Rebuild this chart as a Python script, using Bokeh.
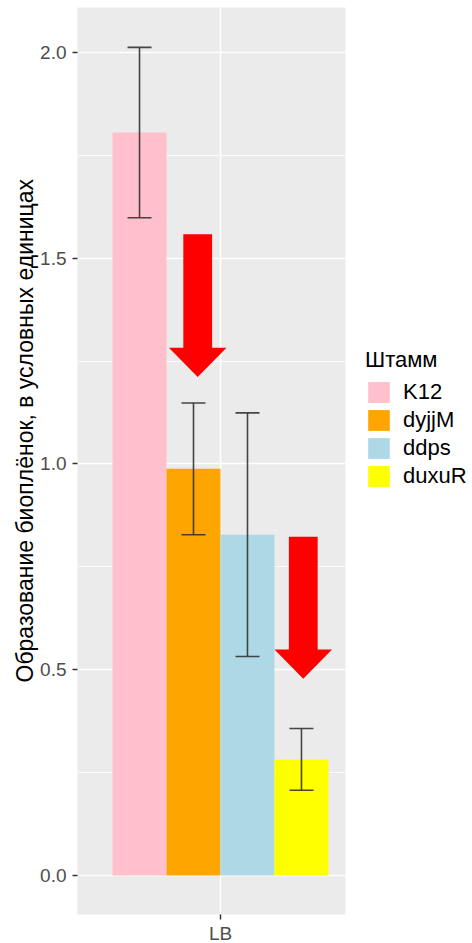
from bokeh.plotting import figure
from bokeh.models import (Range1d, FixedTicker, PrintfTickFormatter, Whisker, TeeHead,
                          ColumnDataSource, Legend, LegendItem, Title)
from bokeh.embed import file_html
from bokeh.resources import INLINE

# ---- data ----
conditions = ["LB"]
strains = ["K12", "dyjjM", "ddps", "duxuR"]
means = [1.805, 0.988, 0.828, 0.282]
err = [0.207, 0.160, 0.296, 0.075]
colors = ["#FFC0CB", "#FFA500", "#ADD8E6", "#FFFF00"]
y_ticks = [0.0, 0.5, 1.0, 1.5, 2.0]
y_minor = [0.25, 0.75, 1.25, 1.75]
y_title = "Образование биоплёнок, в условных единицах"
legend_title = "Штамм"

# annotation arrows (data coords)
arrow_x = [0.905, 1.345]
arrow_top = [1.558, 0.823]
arrow_neck = [1.282, 0.549]
arrow_tip = [1.211, 0.478]

FONT = "Liberation Sans"

dodge_w = 0.9 / len(strains)
xs = [1 + (i - (len(strains) - 1) / 2) * dodge_w for i in range(len(strains))]
lower = [m - e for m, e in zip(means, err)]
upper = [m + e for m, e in zip(means, err)]

src = ColumnDataSource(dict(x=xs, top=means, color=colors, strain=strains,
                            lower=lower, upper=upper))

p = figure(frame_width=268, frame_height=907, output_backend="svg", toolbar_location=None,
           x_range=Range1d(0.404, 1.521), y_range=Range1d(-0.0948, 2.109),
           min_border_left=77, min_border_right=127, min_border_top=7,
           min_border_bottom=29)
p.background_fill_color = "#EBEBEB"
p.border_fill_color = "white"
p.outline_line_color = None

bars = p.vbar(x="x", top="top", bottom=0, width=dodge_w, fill_color="color",
              line_color=None, source=src)

wh = Whisker(base="x", lower="lower", upper="upper", source=src, level="overlay",
             line_color="#333333", line_width=1.6, line_alpha=0.9,
             upper_head=TeeHead(size=24, line_color="#333333", line_width=1.6, line_alpha=0.9),
             lower_head=TeeHead(size=24, line_color="#333333", line_width=1.6, line_alpha=0.9))
p.add_layout(wh)

# arrows
sh, hh = 0.06, 0.12
pxs, pys = [], []
for x, t, n, tip in zip(arrow_x, arrow_top, arrow_neck, arrow_tip):
    pxs.append([x - sh, x + sh, x + sh, x + hh, x, x - hh, x - sh])
    pys.append([t, t, n, n, tip, n, n])
p.patches(pxs, pys, fill_color="#FF0000", line_color=None)

# axes
p.yaxis.ticker = FixedTicker(ticks=y_ticks, minor_ticks=y_minor)
p.yaxis.formatter = PrintfTickFormatter(format="%.1f")
p.xaxis.ticker = FixedTicker(ticks=[1])
p.xaxis.major_label_overrides = {1: conditions[0]}
for ax in (p.xaxis, p.yaxis):
    ax.axis_line_color = None
    ax.major_tick_line_color = "#333333"
    ax.major_tick_line_width = 1.5
    ax.major_tick_out = 5
    ax.major_tick_in = 0
    ax.minor_tick_line_color = None
    ax.major_label_text_font = FONT
    ax.major_label_text_font_size = "19px"
    ax.major_label_text_color = "#4D4D4D"
p.yaxis.major_label_standoff = 6
p.xaxis.major_label_standoff = 3

p.xgrid.ticker = FixedTicker(ticks=[1])
p.xgrid.grid_line_color = "white"
p.xgrid.grid_line_width = 1.5
p.ygrid.grid_line_color = "white"
p.ygrid.grid_line_width = 1.5
p.ygrid.minor_grid_line_color = "white"
p.ygrid.minor_grid_line_width = 0.8

p.add_layout(Title(text=y_title, align="left", offset=232, standoff=0,
                   text_font=FONT, text_font_size="23px", text_font_style="normal",
                   text_color="black"), "left")

legend = Legend(items=[LegendItem(label=s, renderers=[bars], index=i) for i, s in enumerate(strains)],
                title=legend_title, location=(20, 425))
legend.title_text_font = FONT
legend.title_text_font_size = "22px"
legend.title_text_font_style = "normal"
legend.title_text_color = "black"
legend.title_standoff = 6
legend.label_text_font = FONT
legend.label_text_font_size = "22px"
legend.label_text_color = "black"
legend.glyph_width = 27
legend.glyph_height = 26
legend.label_height = 26
legend.label_standoff = 11
legend.spacing = 2
legend.padding = 0
legend.margin = 0
legend.border_line_color = None
legend.background_fill_alpha = 0
p.add_layout(legend, "right")

open("out.html", "w").write(file_html(p, INLINE))
